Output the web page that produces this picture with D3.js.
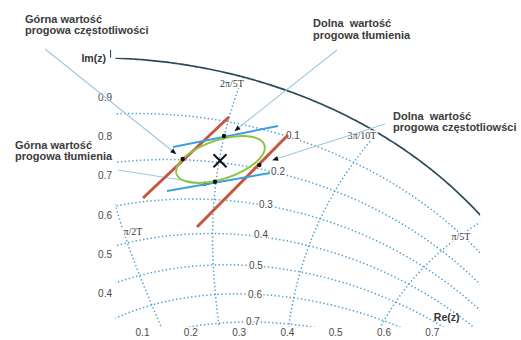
<!DOCTYPE html>
<html><head><meta charset="utf-8">
<script src="https://cdn.jsdelivr.net/npm/d3@7"></script>
<style>
html,body{margin:0;padding:0;background:#fff;}
svg{display:block;}
</style></head>
<body>
<svg id="chart" width="521" height="340"></svg>
<script>
// ---------- data ----------
const xTicks = [0.1, 0.2, 0.3, 0.4, 0.5, 0.6, 0.7];
const yTicks = [0.4, 0.5, 0.6, 0.7, 0.8, 0.9];
const zetaValues = [0.1, 0.2, 0.3, 0.4, 0.5, 0.6, 0.7];
const zetaLabelRe = [0.4126, 0.3816, 0.3567, 0.3464, 0.3360, 0.3340, 0.3298];
const zetaLabelIm = [0.8008, 0.7092, 0.6277, 0.5489, 0.4700, 0.3987, 0.3275];
const wnFactors = [0.5, 0.4, 0.3, 0.2];            // ωn·T / π
const wnLabels = ["π/2T", "2π/5T", "3π/10T", "π/5T"];
const wnLabelRe = [0.0814, 0.2863, 0.5555, 0.7605];
const wnLabelIm = [0.5565, 0.9356, 0.8008, 0.5438];
const redLines = [
  [[0.1021, 0.6430], [0.2801, 0.8491]],
  [[0.2139, 0.5692], [0.4023, 0.8033]]
];
const blueLines = [
  [[0.1642, 0.7728], [0.3816, 0.8262]],
  [[0.1518, 0.6608], [0.3650, 0.7066]]
];
const ellipseCenter = [0.2625, 0.7410];
const ellipseMajorEnd = [0.3534, 0.7776];
const ellipseMinorEnd = [0.2749, 0.6940];
const pole = [0.2615, 0.7379];
const tangentPoints = [[0.1843, 0.7422], [0.2698, 0.8008], [0.3429, 0.7270], [0.2511, 0.6845]];
const annoText = [
  ["Górna wartość", "progowa częstotliwości"],
  ["Górna wartość", "progowa tłumienia"],
  ["Dolna  wartość", "progowa tłumienia"],
  ["Dolna  wartość", "progowa częstotliowści"]
];
const annoTextPos = [[-0.1422, 1.0883], [-0.1629, 0.7677], [0.4540, 1.0781], [0.6197, 0.8415]];
const arrowTail = [[-0.1008, 1.0221], [0.0503, 0.7142], [0.5037, 1.0196], [0.6031, 0.8313]];
const arrowTip = [[0.1663, 0.7593], [0.2340, 0.6786], [0.2961, 0.8178], [0.3754, 0.7415]];
const clipRe = [0.045, 0.8];
const clipIm = [0.315, 1.0];

// ---------- scales ----------
const svg = d3.select("#chart");
const x = d3.scaleLinear().domain([0.1, 0.7]).range([142, 431.8]);
const y = d3.scaleLinear().domain([0.4, 0.9]).range([293.5, 97]);

svg.append("defs").append("clipPath").attr("id", "plotclip")
  .append("rect")
  .attr("x", x(clipRe[0])).attr("y", y(clipIm[1]))
  .attr("width", x(clipRe[1]) - x(clipRe[0]))
  .attr("height", y(clipIm[0]) - y(clipIm[1]));

const line = d3.line().x(d => x(d[0])).y(d => y(d[1]));
const grid = svg.append("g").attr("clip-path", "url(#plotclip)");
const gridColor = "#4f9fd2";

// damping-ratio curves
zetaValues.forEach(z => {
  const k = z / Math.sqrt(1 - z * z);
  const pts = d3.range(0, Math.PI + 0.001, 0.005).map(t => {
    const r = Math.exp(-k * t);
    return [r * Math.cos(t), r * Math.sin(t)];
  });
  grid.append("path").attr("d", line(pts)).attr("fill", "none")
    .attr("stroke", gridColor).attr("stroke-width", 1.5)
    .attr("stroke-dasharray", "1.4,2.4");
});
// natural-frequency curves
wnFactors.forEach(f => {
  const w = f * Math.PI;
  const pts = d3.range(0, 1.0001, 0.005).map(z => {
    const r = Math.exp(-z * w), t = w * Math.sqrt(1 - z * z);
    return [r * Math.cos(t), r * Math.sin(t)];
  });
  grid.append("path").attr("d", line(pts)).attr("fill", "none")
    .attr("stroke", gridColor).attr("stroke-width", 1.5)
    .attr("stroke-dasharray", "1.4,2.4");
});
// unit circle
grid.append("path")
  .attr("d", line(d3.range(0, Math.PI / 2 + 0.001, 0.005).map(t => [Math.cos(t), Math.sin(t)])))
  .attr("fill", "none").attr("stroke", "#2e4a5a").attr("stroke-width", 1.7);

// ---------- axes (tick labels only) ----------
const xAxis = svg.append("g").attr("transform", "translate(0,329)")
  .call(d3.axisBottom(x).tickValues(xTicks).tickSize(0).tickPadding(0).tickFormat(d3.format(".1f")));
const yAxis = svg.append("g").attr("transform", "translate(112,0)")
  .call(d3.axisLeft(y).tickValues(yTicks).tickSize(0).tickPadding(0).tickFormat(d3.format(".1f")));
[xAxis, yAxis].forEach(g => {
  g.select(".domain").remove();
  g.selectAll("text").attr("font-family", "Liberation Sans, Arial, sans-serif")
    .attr("font-size", 10).attr("fill", "#4a4a4a");
});

// ---------- grid labels ----------
const halo = sel => sel.attr("stroke", "#fff").attr("stroke-width", 3)
  .attr("paint-order", "stroke").attr("stroke-linejoin", "round");
svg.append("g").selectAll("text").data(zetaValues).join("text")
  .attr("x", (d, i) => x(zetaLabelRe[i])).attr("y", (d, i) => y(zetaLabelIm[i]))
  .attr("dy", "0.35em").attr("text-anchor", "middle")
  .attr("font-family", "Liberation Sans, Arial, sans-serif").attr("font-size", 10)
  .attr("fill", "#4a4a4a").call(halo)
  .text(d => d3.format(".1f")(d));
svg.append("g").selectAll("text").data(wnLabels).join("text")
  .attr("x", (d, i) => x(wnLabelRe[i])).attr("y", (d, i) => y(wnLabelIm[i]))
  .attr("dy", "0.35em").attr("text-anchor", "middle")
  .attr("font-family", "Liberation Serif, Times New Roman, serif").attr("font-size", 10)
  .attr("fill", "#3a3a3a").call(halo)
  .text(d => d);

// axis titles
svg.append("text").attr("x", x(0.0)).attr("y", y(0.99)).attr("text-anchor", "middle")
  .attr("font-family", "Liberation Sans, Arial, sans-serif").attr("font-size", 10.5)
  .attr("font-weight", "bold").attr("fill", "#333").text("Im(z)");
svg.append("path")
  .attr("d", `M${x(0.035)},${y(1.0)} L${x(0.035)},${y(1.02)}`)
  .attr("stroke", "#333").attr("stroke-width", 1);
svg.append("text").attr("x", x(0.7) + 2).attr("y", y(0.33)).attr("text-anchor", "start")
  .attr("font-family", "Liberation Sans, Arial, sans-serif").attr("font-size", 10.5)
  .attr("font-weight", "bold").attr("fill", "#333").text("Re(z)");

// ---------- annotation arrows ----------
const arrows = svg.append("g");
arrowTail.forEach((t, i) => {
  const a = arrowTip[i];
  const x1 = x(t[0]), y1 = y(t[1]), x2 = x(a[0]), y2 = y(a[1]);
  arrows.append("line").attr("x1", x1).attr("y1", y1).attr("x2", x2).attr("y2", y2)
    .attr("stroke", "#9fc7e2").attr("stroke-width", 1.1);
  const ang = Math.atan2(y2 - y1, x2 - x1) * 180 / Math.PI;
  arrows.append("path").attr("d", "M3,0 L-3,-2.4 L-3,2.4 Z")
    .attr("transform", `translate(${x2},${y2}) rotate(${ang})`)
    .attr("fill", "#111");
});

// ---------- threshold lines and region ----------
const marks = svg.append("g");
redLines.forEach(l => marks.append("path").attr("d", line(l))
  .attr("stroke", "#c9553f").attr("stroke-width", 3).attr("fill", "none"));
blueLines.forEach(l => marks.append("path").attr("d", line(l))
  .attr("stroke", "#3aa0de").attr("stroke-width", 2).attr("fill", "none"));
const ell = d3.range(0, 2 * Math.PI + 0.01, 0.02).map(t => [
  ellipseCenter[0] + Math.cos(t) * (ellipseMajorEnd[0] - ellipseCenter[0]) + Math.sin(t) * (ellipseMinorEnd[0] - ellipseCenter[0]),
  ellipseCenter[1] + Math.cos(t) * (ellipseMajorEnd[1] - ellipseCenter[1]) + Math.sin(t) * (ellipseMinorEnd[1] - ellipseCenter[1])
]);
marks.append("path").attr("d", line(ell) + "Z").attr("fill", "none")
  .attr("stroke", "#8cc63f").attr("stroke-width", 2);
marks.selectAll("circle").data(tangentPoints).join("circle")
  .attr("cx", d => x(d[0])).attr("cy", d => y(d[1])).attr("r", 2.2).attr("fill", "#111");
const px = x(pole[0]), py = y(pole[1]);
marks.append("path")
  .attr("d", `M${px - 6.5},${py - 6.5}L${px + 6.5},${py + 6.5}M${px - 6.5},${py + 6.5}L${px + 6.5},${py - 6.5}`)
  .attr("stroke", "#111").attr("stroke-width", 2);

// ---------- annotation texts ----------
annoText.forEach((lines, i) => {
  const t = svg.append("text").attr("x", x(annoTextPos[i][0])).attr("y", y(annoTextPos[i][1]))
    .attr("font-family", "Liberation Sans, Arial, sans-serif").attr("font-size", 11)
    .attr("font-weight", "bold").attr("fill", "#3b3b3b").attr("xml:space", "preserve")
    .style("white-space", "pre");
  lines.forEach((s, j) => t.append("tspan").attr("x", x(annoTextPos[i][0]))
    .attr("dy", j === 0 ? 0 : 11.5).text(s));
});
</script>
</body></html>
